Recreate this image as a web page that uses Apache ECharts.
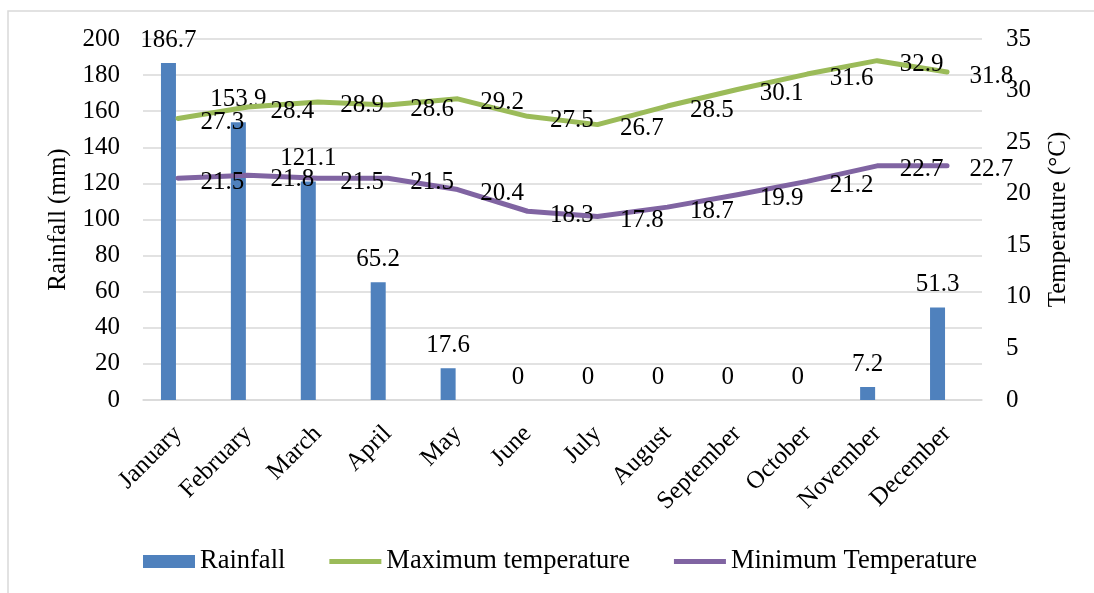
<!DOCTYPE html>
<html>
<head>
<meta charset="utf-8">
<style>
  html, body { margin:0; padding:0; background:#fff; }
  #chart { width:1094px; height:593px; }
</style>
<script src="https://cdn.jsdelivr.net/npm/echarts@6/dist/echarts.min.js"></script>
</head>
<body>
<div id="chart"></div>
<script>
const months = ['January','February','March','April','May','June','July','August','September','October','November','December'];
const rainfall = [186.7, 153.9, 121.1, 65.2, 17.6, 0, 0, 0, 0, 0, 7.2, 51.3];
const maxTemp = [27.3, 28.4, 28.9, 28.6, 29.2, 27.5, 26.7, 28.5, 30.1, 31.6, 32.9, 31.8];
const minTemp = [21.5, 21.8, 21.5, 21.5, 20.4, 18.3, 17.8, 18.7, 19.9, 21.2, 22.7, 22.7];

const FONT = 'Liberation Serif';
const FS = 25;
const txt = { fontFamily: FONT, fontSize: FS, color: '#000' };
const lineIcon = 'path://M0 0H52V5H0Z';

const chart = echarts.init(document.getElementById('chart'));
chart.setOption({
  animation: false,
  textStyle: { fontFamily: FONT },
  graphic: [{
    type: 'rect', silent: true, z: -10,
    shape: { x: 8, y: 11, width: 1200, height: 700 },
    style: { fill: 'none', stroke: '#d9d9d9', lineWidth: 1.5 }
  }],
  grid: [
    { left: 143, right: 112, top: 39, bottom: 193 },
    { left: 133.5, right: 121.5, top: 39, bottom: 193 }
  ],
  legend: {
    left: 138, top: 543, itemGap: 44, itemWidth: 52, itemHeight: 13,
    textStyle: { fontFamily: FONT, fontSize: 26.5, color: '#000' },
    data: [
      { name: 'Rainfall', icon: 'rect' },
      { name: 'Maximum temperature', icon: lineIcon, itemStyle: { color: '#9bbb59', opacity: 1 } },
      { name: 'Minimum Temperature', icon: lineIcon, itemStyle: { color: '#8064a2', opacity: 1 } }
    ]
  },
  xAxis: [
    {
      type: 'category', gridIndex: 0, data: months,
      axisLine: { lineStyle: { color: '#d9d9d9', width: 1.5 } },
      axisTick: { show: false },
      axisLabel: Object.assign({ rotate: 45, margin: 30, interval: 0 }, txt)
    },
    {
      type: 'category', gridIndex: 1, data: months, show: false
    }
  ],
  yAxis: [
    {
      type: 'value', gridIndex: 0, min: 0, max: 200, interval: 20,
      name: 'Rainfall (mm)', nameLocation: 'middle', nameGap: 72,
      nameTextStyle: txt,
      axisLine: { show: false }, axisTick: { show: false },
      axisLabel: Object.assign({ margin: 23 }, txt),
      splitLine: { lineStyle: { color: '#d9d9d9', width: 1.5 } }
    },
    {
      type: 'value', gridIndex: 0, min: 0, max: 35, interval: 5, position: 'right',
      name: 'Temperature (°C)', nameLocation: 'middle', nameGap: 64,
      nameTextStyle: txt,
      axisLine: { show: false }, axisTick: { show: false },
      axisLabel: Object.assign({ margin: 24 }, txt),
      splitLine: { show: false }
    },
    {
      type: 'value', gridIndex: 1, min: 0, max: 200, show: false, splitLine: { show: false }
    }
  ],
  series: [
    {
      name: 'Rainfall', type: 'bar', xAxisIndex: 1, yAxisIndex: 2,
      data: rainfall, barWidth: 15,
      itemStyle: { color: '#4f81bd' },
      label: Object.assign({ show: true, position: 'top', distance: 10 }, txt)
    },
    {
      name: 'Maximum temperature', type: 'line', xAxisIndex: 0, yAxisIndex: 1,
      data: maxTemp, symbol: 'circle', symbolSize: 1, showSymbol: true,
      lineStyle: { color: '#9bbb59', width: 5, cap: 'round', join: 'round' },
      itemStyle: { color: 'rgba(0,0,0,0)' },
      label: Object.assign({ show: true, position: 'right', distance: 22, offset: [0, 4] }, txt)
    },
    {
      name: 'Minimum Temperature', type: 'line', xAxisIndex: 0, yAxisIndex: 1,
      data: minTemp, symbol: 'circle', symbolSize: 1, showSymbol: true,
      lineStyle: { color: '#8064a2', width: 5, cap: 'round', join: 'round' },
      itemStyle: { color: 'rgba(0,0,0,0)' },
      label: Object.assign({ show: true, position: 'right', distance: 22, offset: [0, 4] }, txt)
    }
  ]
});
</script>
</body>
</html>
